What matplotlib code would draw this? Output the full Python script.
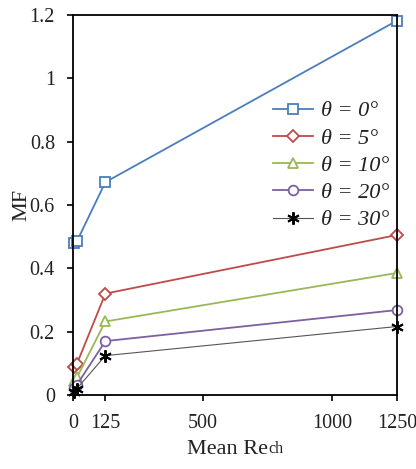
import numpy as np
import matplotlib.pyplot as plt

plt.rcParams['font.family'] = ['Liberation Serif', 'DejaVu Serif']

# Datos
re_medio = [5, 15, 125, 1250]
mf_0 = [0.48, 0.485, 0.672, 1.182]
mf_5 = [0.088, 0.098, 0.32, 0.505]
mf_10 = [0.045, 0.055, 0.232, 0.385]
mf_20 = [0.022, 0.032, 0.17, 0.268]
mf_30 = [0.01, 0.02, 0.124, 0.216]

series = [
    (mf_0, "θ = 0°", "#4a7ebb", "s", 1.3),
    (mf_5, "θ = 5°", "#be4b48", "D", 1.3),
    (mf_10, "θ = 10°", "#98b954", "^", 1.3),
    (mf_20, "θ = 20°", "#7d60a0", "o", 1.3),
    (mf_30, "θ = 30°", "#555555", (6, 2, 0), 0.8),
]

fig = plt.figure(figsize=(4.16, 4.69), dpi=100)
ax = fig.add_axes([0.1755, 0.158, 0.7785, 0.81])

for valores, etiqueta, color, marca, lw in series:
    if marca == (6, 2, 0):
        ax.plot(re_medio, valores, color=color, linewidth=lw, marker=marca,
                markersize=9, markeredgecolor="black", markeredgewidth=1.4,
                label=etiqueta, clip_on=False)
    else:
        tam = 7 if marca != "D" else 6.5
        ax.plot(re_medio, valores, color=color, linewidth=lw, marker=marca,
                markersize=tam, markerfacecolor="white", markeredgecolor=color,
                markeredgewidth=1.3, label=etiqueta, clip_on=False)

ax.set_xlim(0, 1250)
ax.set_ylim(0, 1.2)
ax.set_xticks([0, 125, 500, 1000, 1250])
ax.set_xticklabels(["0", "125", "500", "1000", "1250"])
ax.set_yticks([0, 0.2, 0.4, 0.6, 0.8, 1.0, 1.2])
ax.set_yticklabels(["0", "0.2", "0.4", "0.6", "0.8", "1", "1.2"])
ax.tick_params(direction="out", length=4, width=1.2, labelsize=14.5,
               labelcolor="#222222")
ax.tick_params(axis="x", pad=9.5)
ax.tick_params(axis="y", pad=9)

for lado in ax.spines.values():
    lado.set_linewidth(1.3)

# etiqueta del eje x: "Mean Re" + "ch" mas chico sobre la misma linea base
ax.set_xlabel("Mean Re", fontsize=16, color="#222222", labelpad=5)
ax.xaxis.label.set_x(0.478)
ax.annotate("ch", xy=(1, 0), xycoords=ax.xaxis.label, xytext=(0.3, 0.8),
            textcoords="offset points", ha="left", va="bottom",
            fontsize=11.5, color="#222222")
ax.set_ylabel("MF", fontsize=16, color="#222222", labelpad=-1)

leg = ax.legend(loc="upper left", bbox_to_anchor=(0.617, 0.774), frameon=False,
                fontsize=16, handlelength=1.8, handletextpad=0.36,
                labelspacing=0.3, borderaxespad=0, borderpad=0)
for t in leg.get_texts():
    t.set_fontstyle("italic")
    t.set_color("#222222")

fig.savefig("out.png", dpi=100)
